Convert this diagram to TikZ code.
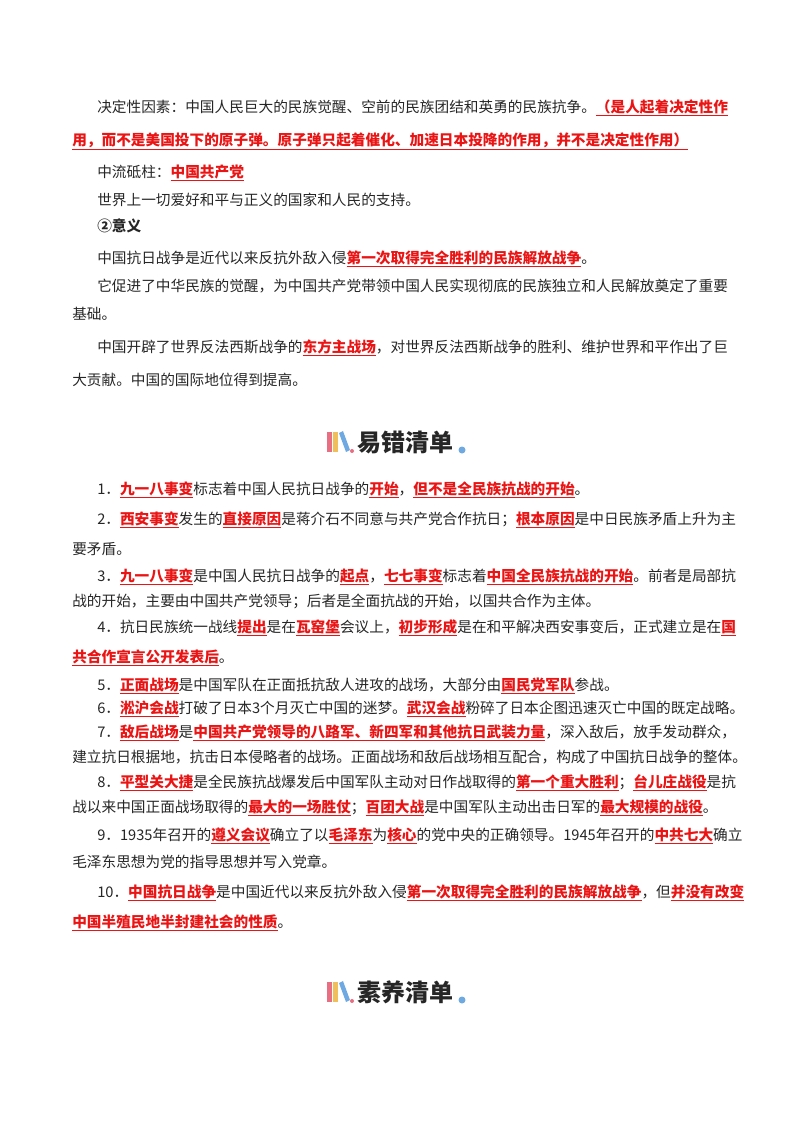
\documentclass[tikz,border=0pt]{standalone}
\usepackage{fontspec}
\setmainfont{Noto Sans CJK SC}
\usetikzlibrary{positioning}
\newcommand{\hl}[1]{\textcolor{hlred}{\underline{\textbf{#1}}}}
\definecolor{hlred}{RGB}{235,20,20}
\definecolor{bookpink}{RGB}{232,110,130}
\definecolor{bookyel}{RGB}{240,190,90}
\definecolor{bookblue}{RGB}{110,170,225}
\tikzset{
  txt/.style={anchor=base west, inner sep=0, font=\fontsize{11pt}{13pt}\selectfont, text=black!85},
  head/.style={anchor=base west, inner sep=0, font=\fontsize{18pt}{21pt}\selectfont\bfseries, text=black!85}
}
\begin{document}
\begin{tikzpicture}[x=0.75pt, y=-0.75pt]
  \useasboundingbox (0,0) rectangle (800,1132);
  % upper part
  \node[txt] (a1) at (97,112) {决定性因素：中国人民巨大的民族觉醒、空前的民族团结和英勇的民族抗争。\hl{（是人起着决定性作}};
  \node[txt] (a2) at (72,145) {\hl{用，而不是美国投下的原子弹。原子弹只起着催化、加速日本投降的作用，并不是决定性作用）}};
  \node[txt] (a3) at (97,177) {中流砥柱：\hl{中国共产党}};
  \node[txt] (a4) at (97,205) {世界上一切爱好和平与正义的国家和人民的支持。};
  \node[txt] (a5) at (97,231) {\textbf{②意义}};
  \node[txt] (a6) at (97,263) {中国抗日战争是近代以来反抗外敌入侵\hl{第一次取得完全胜利的民族解放战争}。};
  \node[txt] (a7) at (97,291) {它促进了中华民族的觉醒，为中国共产党带领中国人民实现彻底的民族独立和人民解放奠定了重要};
  \node[txt] (a8) at (72,319) {基础。};
  \node[txt] (a9) at (97,352) {中国开辟了世界反法西斯战争的\hl{东方主战场}，对世界反法西斯战争的胜利、维护世界和平作出了巨};
  \node[txt] (a10) at (72,385) {大贡献。中国的国际地位得到提高。};

  % header 1
  \fill[bookpink] (327,432) rectangle (332,452);
  \fill[bookyel] (333,432) rectangle (338,452);
  \fill[bookblue] (339,433) -- (343,431) -- (350,450) -- (346,452) -- cycle;
  \fill[bookpink] (352,451) circle (2);
  \node[head] (h1) at (357,451) {易错清单};
  \fill[bookblue] (462,450) circle (3.5);

  % list
  \node[txt] (b1) at (97,494) {1．\hl{九一八事变}标志着中国人民抗日战争的\hl{开始}，\hl{但不是全民族抗战的开始}。};
  \node[txt] (b2) at (97,524) {2．\hl{西安事变}发生的\hl{直接原因}是蒋介石不同意与共产党合作抗日；\hl{根本原因}是中日民族矛盾上升为主};
  \node[txt] (b3) at (72,554) {要矛盾。};
  \node[txt] (b4) at (97,581) {3．\hl{九一八事变}是中国人民抗日战争的\hl{起点}，\hl{七七事变}标志着\hl{中国全民族抗战的开始}。前者是局部抗};
  \node[txt] (b5) at (72,606) {战的开始，主要由中国共产党领导；后者是全面抗战的开始，以国共合作为主体。};
  \node[txt] (b6) at (97,632) {4．抗日民族统一战线\hl{提出}是在\hl{瓦窑堡}会议上，\hl{初步形成}是在和平解决西安事变后，正式建立是在\hl{国}};
  \node[txt] (b7) at (72,662) {\hl{共合作宣言公开发表后}。};
  \node[txt] (b8) at (97,690) {5．\hl{正面战场}是中国军队在正面抵抗敌人进攻的战场，大部分由\hl{国民党军队}参战。};
  \node[txt] (b9) at (97,713) {6．\hl{淞沪会战}打破了日本3个月灭亡中国的迷梦。\hl{武汉会战}粉碎了日本企图迅速灭亡中国的既定战略。};
  \node[txt] (b10) at (97,737) {7．\hl{敌后战场}是\hl{中国共产党领导的八路军、新四军和其他抗日武装力量}，深入敌后，放手发动群众，};
  \node[txt] (b11) at (72,762) {建立抗日根据地，抗击日本侵略者的战场。正面战场和敌后战场相互配合，构成了中国抗日战争的整体。};
  \node[txt] (b12) at (97,787) {8．\hl{平型关大捷}是全民族抗战爆发后中国军队主动对日作战取得的\hl{第一个重大胜利}；\hl{台儿庄战役}是抗};
  \node[txt] (b13) at (72,812) {战以来中国正面战场取得的\hl{最大的一场胜仗}；\hl{百团大战}是中国军队主动出击日军的\hl{最大规模的战役}。};
  \node[txt] (b14) at (97,840) {9．1935年召开的\hl{遵义会议}确立了以\hl{毛泽东}为\hl{核心}的党中央的正确领导。1945年召开的\hl{中共七大}确立};
  \node[txt] (b15) at (72,867) {毛泽东思想为党的指导思想并写入党章。};
  \node[txt] (b16) at (97,897) {10．\hl{中国抗日战争}是中国近代以来反抗外敌入侵\hl{第一次取得完全胜利的民族解放战争}，但\hl{并没有改变}};
  \node[txt] (b17) at (72,927) {\hl{中国半殖民地半封建社会的性质}。};

  % header 2
  \fill[bookpink] (327,982) rectangle (332,1002);
  \fill[bookyel] (333,982) rectangle (338,1002);
  \fill[bookblue] (339,983) -- (343,981) -- (350,1000) -- (346,1002) -- cycle;
  \fill[bookpink] (352,1001) circle (2);
  \node[head] (h2) at (357,1001) {素养清单};
  \fill[bookblue] (462,1000) circle (3.5);
\end{tikzpicture}
\end{document}
